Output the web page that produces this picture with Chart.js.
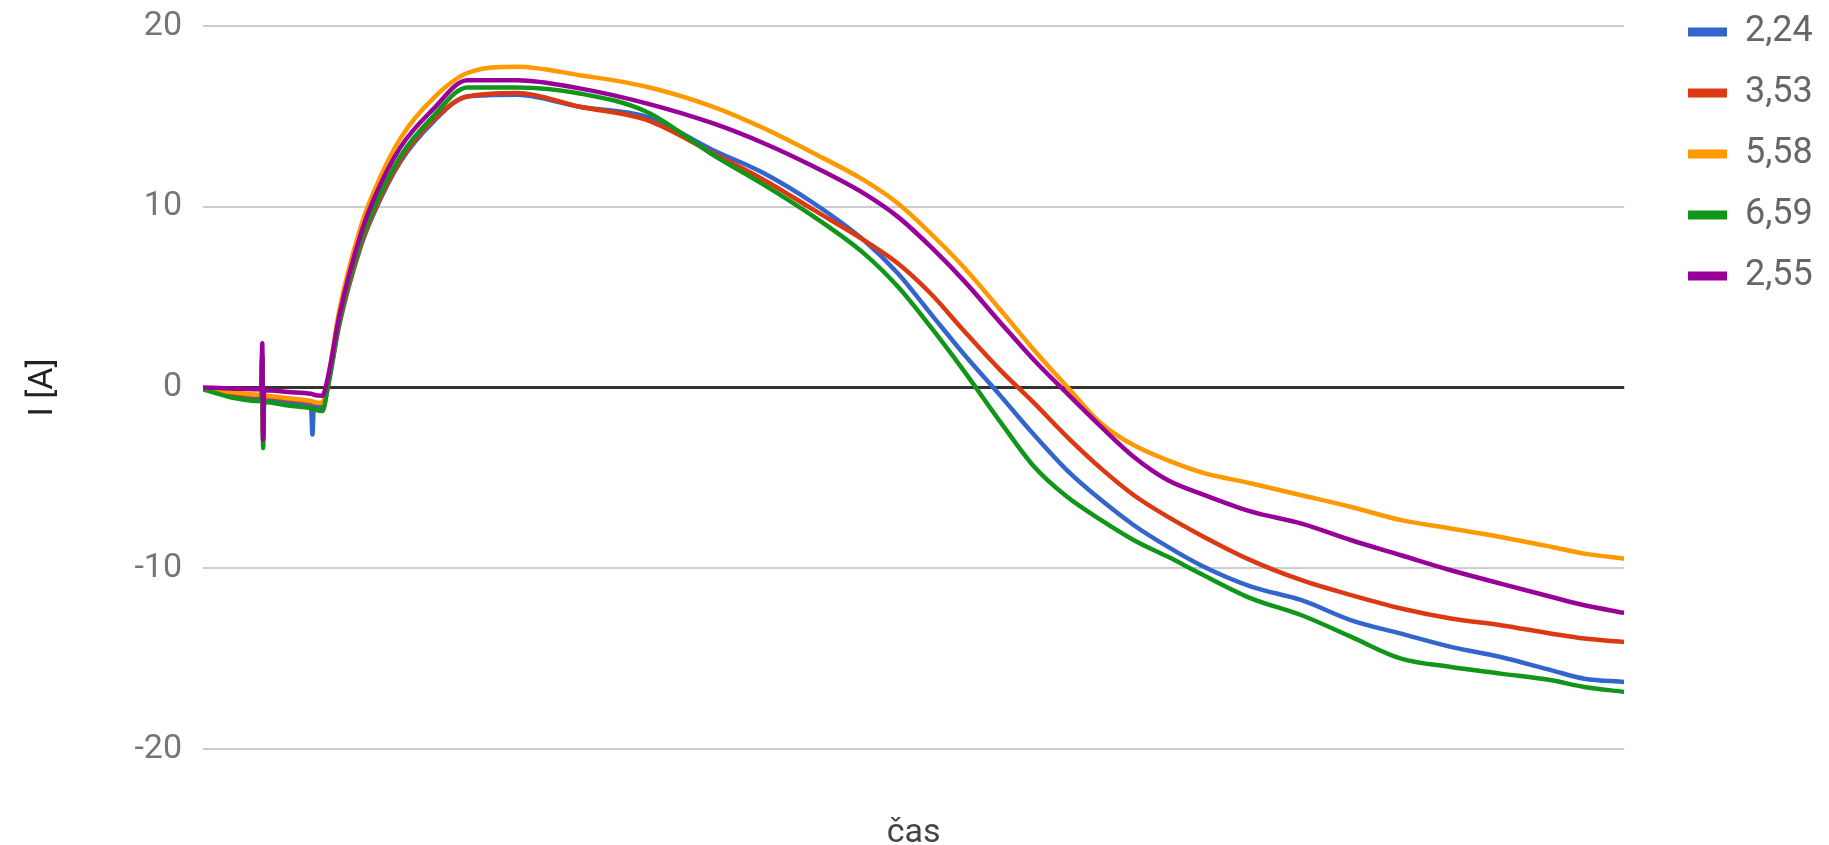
<!DOCTYPE html>
<html>
<head>
<meta charset="utf-8">
<title>I [A] / čas</title>
<script src="https://cdn.jsdelivr.net/npm/chart.js@4/dist/chart.umd.min.js"></script>
<style>
    html, body { margin: 0; padding: 0; background: #fff; }
    #wrap { width: 1829px; height: 845px; }
</style>
</head>
<body>
<div id="wrap"><canvas id="lineChart" width="1829" height="845"></canvas></div>
<script>
// time axis (no labels shown in the original), shared by all series
var cas = [0, 2, 4.1, 4.17, 4.23, 4.3, 6, 7.6, 7.7, 7.8, 8.4, 8.8, 9.6, 11.1, 12.0, 13.9, 16.2, 18.6, 22.1, 26.5,
    31.2, 35.9, 39.5, 43.0, 46.5, 48.9, 51.2, 53.5, 56.1, 58.5, 60.8, 63.2, 65.5, 67.9, 70.2, 73.7,
    77.3, 80.8, 84.3, 87.8, 91.3, 94.9, 97.2, 100];

var seriesNames = ['2,24', '3,53', '5,58', '6,59', '2,55'];
var seriesColors = ['#3366cc', '#dc3912', '#ff9900', '#109618', '#990099'];

var s224 = [-0.05, -0.4, -0.6, 1.7, -2.9, -0.65, -0.85, -1.0, -2.6, -1.05, -1.15, 0.1, 3.5, 7.8, 9.6, 12.5, 14.7, 16.1, 16.2, 15.53,
    14.98, 13.13, 11.84, 10.18, 8.15, 6.31, 4.09, 1.88, -0.45, -2.64, -4.58, -6.23, -7.62, -8.82, -9.83, -11.0,
    -11.77, -12.88, -13.62, -14.35, -14.91, -15.65, -16.11, -16.29];
var s353 = [-0.05, -0.3, -0.45, 1.6, -2.6, -0.5, -0.65, -0.8, -0.82, -0.85, -0.9, 0.2, 3.6, 7.9, 9.7, 12.6, 14.8, 16.1, 16.3, 15.53,
    14.8, 12.95, 11.47, 9.81, 8.15, 6.86, 5.2, 3.17, 0.96, -0.88, -2.73, -4.49, -5.96, -7.16, -8.17, -9.55,
    -10.66, -11.49, -12.23, -12.78, -13.15, -13.62, -13.89, -14.08];
var s558 = [-0.05, -0.25, -0.4, 1.5, -2.5, -0.45, -0.6, -0.75, -0.77, -0.8, -0.85, 0.5, 4.3, 8.9, 10.8, 13.8, 16.0, 17.4, 17.75, 17.28,
    16.64, 15.53, 14.33, 12.95, 11.47, 10.18, 8.52, 6.68, 4.3, 2.05, 0.04, -1.99, -3.2, -4.03, -4.68, -5.3,
    -5.96, -6.61, -7.34, -7.8, -8.27, -8.82, -9.19, -9.47];
var s659 = [-0.1, -0.55, -0.75, 1.8, -3.35, -0.8, -1.0, -1.15, -1.17, -1.2, -1.3, 0.1, 3.7, 8.1, 9.9, 12.8, 15.0, 16.6, 16.6, 16.27,
    15.26, 12.86, 11.2, 9.44, 7.42, 5.57, 3.35, 0.96, -1.9, -4.4, -6.05, -7.34, -8.45, -9.37, -10.3, -11.65,
    -12.6, -13.8, -15.0, -15.46, -15.83, -16.2, -16.57, -16.84];
var s255 = [0, -0.05, -0.1, 2.45, -2.9, -0.15, -0.25, -0.35, -0.37, -0.4, -0.45, 0.6, 4.0, 8.5, 10.4, 13.3, 15.4, 17.0, 17.0, 16.55,
    15.72, 14.61, 13.5, 12.21, 10.74, 9.44, 7.79, 5.94, 3.6, 1.49, -0.33, -2.18, -3.84, -5.13, -5.87, -6.85,
    -7.53, -8.45, -9.28, -10.11, -10.85, -11.59, -12.05, -12.47];

var yTicks = [-20, -10, 0, 10, 20];

var allSeries = [s224, s353, s558, s659, s255];

Chart.defaults.font.family = 'Roboto, "Liberation Sans", sans-serif';

// move the legend column to where the original has it
var legendPlace = {
    id: 'legendPlace',
    afterLayout: function(chart) {
        var lg = chart.legend;
        var pad = lg.options.labels.padding;
        var dx = 1688 - pad - lg.left;
        var dy = -11 - lg.top;
        lg.left += dx; lg.right += dx;
        lg.top += dy; lg.bottom += dy;
    }
};

document.addEventListener('DOMContentLoaded', function() {
    var ctx = document.getElementById('lineChart').getContext('2d');

    var datasets = allSeries.map(function(vals, i) {
        return {
            label: seriesNames[i],
            data: vals.map(function(v, k) { return { x: cas[k], y: v }; }),
            borderColor: seriesColors[i],
            backgroundColor: seriesColors[i],
            borderWidth: 4.5,
            pointRadius: 0,
            cubicInterpolationMode: 'monotone',
            order: allSeries.length - 1 - i   // last series drawn on top
        };
    });

    new Chart(ctx, {
        type: 'line',
        data: { datasets: datasets },
        plugins: [legendPlace],
        options: {
            responsive: false,
            animation: false,
            layout: { padding: { top: 26, right: 45, bottom: 0, left: 0 } },
            plugins: {
                tooltip: { enabled: false },
                legend: {
                    position: 'right',
                    align: 'start',
                    labels: {
                        boxWidth: 39,
                        boxHeight: 9,
                        padding: 25,
                        color: '#666',
                        font: { size: 36 },
                        sort: function(a, b) { return a.datasetIndex - b.datasetIndex; },
                        generateLabels: function(chart) {
                            return Chart.defaults.plugins.legend.labels.generateLabels(chart).map(function(item) {
                                item.lineWidth = 0;
                                return item;
                            });
                        }
                    }
                }
            },
            scales: {
                x: {
                    type: 'linear',
                    min: 0,
                    max: 100,
                    grid: { display: false },
                    border: { display: false },
                    ticks: { display: false },
                    title: {
                        display: true,
                        text: 'čas',
                        color: '#444',
                        font: { size: 34, lineHeight: 0.7 },
                        padding: 0
                    },
                    afterFit: function(scale) { scale.height = 96; }
                },
                y: {
                    min: -20,
                    max: 20,
                    afterBuildTicks: function(scale) {
                        scale.ticks = yTicks.map(function(v) { return { value: v }; });
                    },
                    border: { display: false },
                    grid: {
                        drawTicks: true,
                        tickLength: 21,
                        tickColor: 'rgba(0,0,0,0)',
                        color: function(c) { return c.tick && c.tick.value === 0 ? '#333' : '#ccc'; },
                        lineWidth: function(c) { return c.tick && c.tick.value === 0 ? 3 : 2; }
                    },
                    ticks: {
                        padding: 0,
                        color: '#757575',
                        font: { size: 34 }
                    },
                    title: {
                        display: true,
                        text: 'I [A]',
                        color: '#222',
                        font: { size: 34 },
                        padding: { top: 23, bottom: 0 }
                    },
                    afterFit: function(scale) { scale.width = 203; }
                }
            }
        }
    });
});
</script>
</body>
</html>
